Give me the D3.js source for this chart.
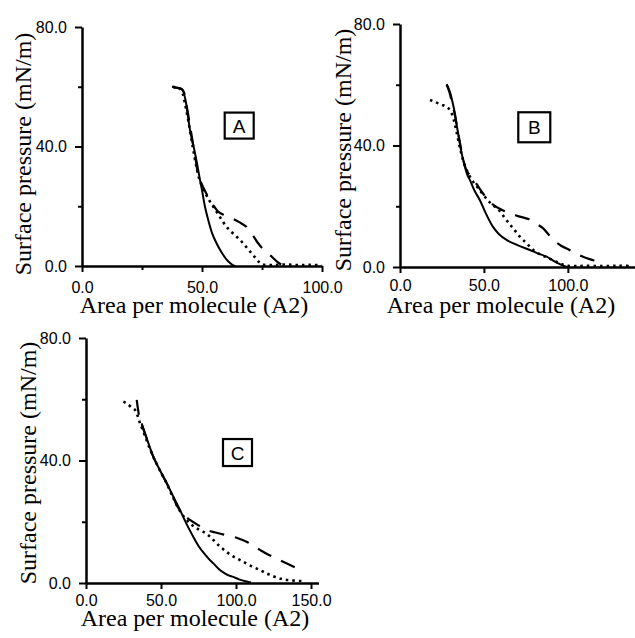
<!DOCTYPE html>
<html>
<head>
<meta charset="utf-8">
<script src="https://cdn.jsdelivr.net/npm/d3@7"></script>
<style>
  body { margin: 0; background: #fff; }
  svg { display: block; }
</style>
</head>
<body>
<div id="chart"></div>
<script>
// isotherms, [area per molecule (A2), surface pressure (mN/m)]
const aSolid = [[37.5,60],[40,59.6],[41.7,59.2],[43,56],[44,51],[45,45.5],[46.5,40],[47.9,34.4],[49,29.5],[50,25.4],[51.2,20],[52.6,15.4],[54.2,11],[56,7.7],[58,4.8],[60,2.4],[61.7,1],[63,0.2],[64,0]];
const aDashed = [[38,59.8],[41,59.4],[42.3,58.5],[43.5,54],[44.8,48],[46,42],[47.3,36],[48.3,31],[49.3,28.5],[51,25.5],[53,22.5],[55,20],[57,18],[59.5,17],[62.4,16],[65.5,14.7],[68.7,13],[71,10.5],[73.3,7.7],[76,5.2],[79.2,3],[81.5,1.3],[83,0.5]];
const aDotted = [[37.8,60],[40.5,59.5],[41.8,58],[43,54],[44.3,48.5],[45.6,42.5],[46.9,36.5],[48,32],[49,28.8],[51,25],[53,22],[55,19.5],[57,17],[59,14.5],[61,12.4],[63.5,10.5],[66,8.6],[68.5,6.3],[70.7,4.2],[72.5,2.5],[74.2,1],[76,0.4],[80,0.3],[85,0.5],[90,0.3],[95,0.4],[100,0.2]];

const bSolid = [[27.8,60.2],[29.5,58],[31,55],[32.7,50.6],[34,46],[35.3,42],[36.7,37.5],[38.5,33.5],[40,30.5],[41.7,28.6],[44.5,25],[47.6,22],[51,17.8],[55.4,13.2],[59,10.8],[63.5,8.9],[70,7.2],[77.4,5.6],[82,4.5],[87.3,3.4],[91,2.2],[95,1],[98,0.3],[101,0]];
const bDashed = [[27.8,60],[29.5,57.5],[31,54],[32.7,50],[34,46],[35.5,41.5],[37,37],[38.8,33],[40.5,31],[42.7,29.7],[46,27],[50,23.8],[55.5,20.5],[60,19],[64,18],[67.5,17.2],[72,16.5],[77,15.7],[81,14.3],[85.3,12.7],[88,11],[91.3,8.9],[96,7],[101,5.6],[105,4.3],[109,3.4],[113,2.6],[118,1.7],[121,1]];
const bDotted = [[17.9,55],[21,54.3],[24.5,53.5],[27.8,52.7],[30,51.5],[32,48.5],[33.5,45],[35,41],[36.7,37],[38.5,33.5],[40.5,31],[43,28.5],[46.5,26],[50,23.5],[54,21],[58.5,19],[62,16.5],[65,14.3],[67.5,12.7],[71.4,10],[75.4,7.8],[79.4,5.6],[84,4],[88,3],[92,2],[96,1],[100,0.4],[105,0.3],[110,0.4],[120,0.3],[130,0.4],[138,0.3]];

const cSolid = [[37.1,52.1],[41,46.5],[44.9,41.2],[49.3,36.8],[53.8,32.6],[58.2,28.2],[62.7,23.8],[67,19.3],[71.5,15.1],[75,12.1],[78.5,9.8],[82,7.8],[84.9,6.4],[88.5,4.6],[92,3.3],[95,2.5],[98.2,2],[102,1.2],[107,0.5],[110,0.2]];
const cDashed = [[33.8,59.8],[34.6,57],[35.5,54.3],[37,52],[41,46.5],[44.9,41.2],[49.3,36.8],[53.8,32.6],[57.5,29],[60.4,25.5],[65,22.3],[69.3,20.6],[75,18.8],[80.4,17.3],[87,16.4],[92,15.8],[98.2,15.1],[103,14.3],[107,13.5],[111,12.3],[116,10.8],[121,9.4],[127,8],[131,7],[136,5.9],[141,4.7],[145,3.7]];
const cDotted = [[24.9,59.2],[27.5,58.5],[30,57.5],[32.7,56.5],[34.5,54.5],[36,52.2],[39,48.5],[42,44.5],[45,41],[49,37],[53.5,32.8],[57,29],[60.4,25.5],[65,21.8],[70,19.2],[75,17.5],[80,16.2],[84,14.5],[88,12.5],[92,10.8],[97,9],[102.7,7.5],[109,5.8],[116,4.2],[122,2.8],[129,1.5],[136,0.9],[145,0.6]];

const yTicks = [0, 40, 80];
const yMinor = [20, 60];

const panels = [
  { name: 'A', solid: aSolid, dashed: aDashed, dotted: aDotted,
    xMax: 100, xTicks: [0, 50, 100], xMinor: [25, 75], box: [65.5, 47], boxSize: [29, 26],
    left: 82, right: 322, top: 27, bottom: 266, xPad: 10, ylx: 31, yly: 154, xlx: 194, xly: 313 },
  { name: 'B', solid: bSolid, dashed: bDashed, dotted: bDotted,
    xMax: 140, xTicks: [0, 50, 100], xMinor: [], box: [80, 46], boxSize: [32, 30],
    left: 400, right: 635, top: 24, bottom: 267, xPad: 7, ylx: 351, yly: 150, xlx: 501, xly: 313 },
  { name: 'C', solid: cSolid, dashed: cDashed, dotted: cDotted,
    xMax: 155, xTicks: [0, 50, 100, 150], xMinor: [], box: [101, 42.6], boxSize: [29, 27],
    left: 86, right: 318.5, top: 338, bottom: 583, xPad: 6, ylx: 36, yly: 463, xlx: 195, xly: 626 }
];

const fmt = d3.format('.1f');

const svg = d3.select('#chart')
  .append('svg')
  .attr('width', 635)
  .attr('height', 638);

panels.forEach(p => {
  const x = d3.scaleLinear().domain([0, p.xMax]).range([p.left, p.right]);
  const y = d3.scaleLinear().domain([0, 80]).range([p.bottom, p.top]);
  const g = svg.append('g');

  // minor ticks first, no labels
  g.append('g')
    .attr('transform', `translate(${p.left},0)`)
    .call(d3.axisLeft(y).tickValues(yMinor).tickSize(4).tickFormat(''))
    .call(a => a.select('.domain').remove());
  g.append('g')
    .attr('transform', `translate(0,${p.bottom})`)
    .call(d3.axisBottom(x).tickValues(p.xMinor).tickSize(4).tickFormat(''))
    .call(a => a.select('.domain').remove());

  g.append('g')
    .attr('transform', `translate(${p.left},0)`)
    .call(d3.axisLeft(y).tickValues(yTicks).tickSize(7).tickSizeOuter(0).tickPadding(8).tickFormat(fmt));
  g.append('g')
    .attr('transform', `translate(0,${p.bottom})`)
    .call(d3.axisBottom(x).tickValues(p.xTicks).tickSize(6).tickSizeOuter(0).tickPadding(p.xPad).tickFormat(fmt));

  g.selectAll('.domain').attr('stroke', '#000').attr('stroke-width', 2.5);
  g.selectAll('.tick line').attr('stroke', '#000').attr('stroke-width', 2);
  g.selectAll('.tick text')
    .attr('fill', '#000')
    .style('font-family', '"Liberation Sans", Arial, sans-serif')
    .style('font-size', '16px');

  const line = d3.line()
    .x(d => x(d[0]))
    .y(d => y(d[1]))
    .curve(d3.curveCatmullRom.alpha(0.5));

  const series = [
    { data: p.solid, dash: null, w: 2 },
    { data: p.dashed, dash: '15,11', w: 2.2 },
    { data: p.dotted, dash: '2.5,4', w: 2.6 }
  ];
  g.append('g')
    .selectAll('path')
    .data(series)
    .join('path')
    .attr('d', s => line(s.data))
    .attr('fill', 'none')
    .attr('stroke', '#000')
    .attr('stroke-width', s => s.w)
    .attr('stroke-dasharray', s => s.dash);

  // boxed panel letter
  const bx = x(p.box[0]), by = y(p.box[1]);
  const [bw, bh] = p.boxSize;
  g.append('rect')
    .attr('x', bx - bw / 2).attr('y', by - bh / 2)
    .attr('width', bw).attr('height', bh)
    .attr('fill', '#fff')
    .attr('stroke', '#000')
    .attr('stroke-width', 2.2);
  g.append('text')
    .attr('x', bx).attr('y', by + 7)
    .attr('text-anchor', 'middle')
    .style('font-family', '"Liberation Sans", Arial, sans-serif')
    .style('font-size', '19px')
    .text(p.name);

  // axis titles
  g.append('text')
    .attr('transform', `translate(${p.ylx},${p.yly}) rotate(-90)`)
    .attr('text-anchor', 'middle')
    .style('font-family', '"Liberation Serif", "Times New Roman", serif')
    .style('font-size', '24px')
    .text('Surface pressure (mN/m)');
  g.append('text')
    .attr('x', p.xlx)
    .attr('y', p.xly)
    .attr('text-anchor', 'middle')
    .style('font-family', '"Liberation Serif", "Times New Roman", serif')
    .style('font-size', '24px')
    .text('Area per molecule (A2)');
});
</script>
</body>
</html>
